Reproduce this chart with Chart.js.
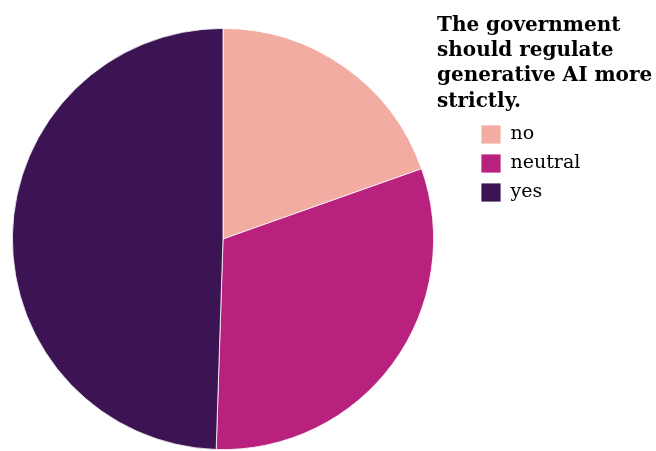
<!DOCTYPE html>
<html>
<head>
<meta charset="utf-8">
<script src="https://cdn.jsdelivr.net/npm/chart.js@4/dist/chart.umd.min.js"></script>
<style>
  html, body { margin: 0; padding: 0; background: #fff; }
  #wrap { position: relative; width: 656px; height: 451px; }
  #titulo {
    position: absolute; left: 437px; top: 12px;
    font-family: 'DejaVu Serif', serif; font-weight: bold;
    font-size: 20px; line-height: 25.2px; color: #000;
  }
</style>
</head>
<body>
<div id="wrap">
  <canvas id="pieChart" width="656" height="451"></canvas>
  <div id="titulo">The government<br>should regulate<br>generative AI more<br>strictly.</div>
</div>
<script>
// datos de la encuesta
const categorias = ['no', 'neutral', 'yes'];
const respuestas = [19, 30, 48];
const colores = ['#f3aca1', '#b9217f', '#3d1453'];

// la leyenda ocupa la franja derecha; luego se corre un poco a la derecha
const legendWidth = {
    id: 'legendWidth',
    beforeInit(chart) {
        const fitOriginal = chart.legend.fit;
        chart.legend.fit = function () {
            fitOriginal.bind(chart.legend)();
            this.width = 210;
        };
    },
    afterLayout(chart) {
        chart.legend.left = 471;
        chart.legend.right = 656;
        chart.legend.adjustHitBoxes();
    }
};

const ctx = document.getElementById('pieChart').getContext('2d');
const chart = new Chart(ctx, {
    type: 'pie',
    data: {
        labels: categorias,
        datasets: [{
            data: respuestas,
            backgroundColor: colores,
            borderColor: '#ffffff',
            borderWidth: 0.8
        }]
    },
    options: {
        responsive: false,
        animation: false,
        layout: { padding: { top: 28, bottom: 1, left: 0, right: 0 } },
        plugins: {
            tooltip: { enabled: false },
            legend: {
                position: 'right',
                align: 'start',
                title: {
                    display: true,
                    text: '',
                    font: { size: 10, lineHeight: 1 },
                    padding: { top: 77, bottom: 0 }
                },
                labels: {
                    boxWidth: 20,
                    boxHeight: 19,
                    padding: 10,
                    color: '#000',
                    font: { family: "'DejaVu Serif', serif", size: 19 }
                }
            }
        }
    },
    plugins: [legendWidth]
});
</script>
</body>
</html>
